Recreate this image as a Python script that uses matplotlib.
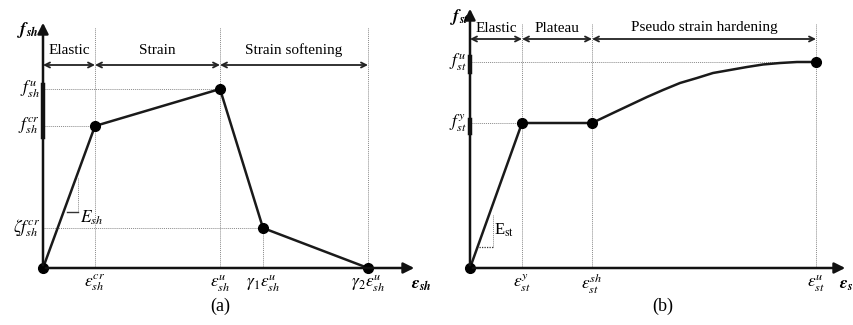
import numpy as np
import matplotlib.pyplot as plt

plt.rcParams['font.family'] = ['Liberation Serif', 'DejaVu Serif']
plt.rcParams['mathtext.fontset'] = 'custom'
plt.rcParams['mathtext.rm'] = 'STIXGeneral'
plt.rcParams['mathtext.it'] = 'STIXGeneral:italic'
plt.rcParams['mathtext.bf'] = 'STIXGeneral:italic:bold'

# (a) strain-hardening material, schematic units
sh_strain = [0, 52, 177, 220, 325]
sh_stress = [0, 142, 179, 40, 0]
sh_xlabels = [r'$\varepsilon_{sh}^{cr}$', r'$\varepsilon_{sh}^{u}$',
              r'$\gamma_1\varepsilon_{sh}^{u}$', r'$\gamma_2\varepsilon_{sh}^{u}$']
sh_ylabels = [r'$f_{sh}^{cr}$', r'$f_{sh}^{u}$', r'$\zeta f_{sh}^{cr}$']
sh_zones = ['Elastic', 'Strain', 'Strain softening']

# (b) steel, schematic units
st_strain = [0, 52, 122]
st_stress = [0, 145, 145]
st_curve_x = [122, 143, 160, 177, 193, 210, 227, 243, 260, 277, 293, 310, 327, 346]
st_curve_y = [145, 155, 163, 171, 178, 185, 190, 195, 198, 201, 203.5, 205, 206, 206]
st_xlabels = [r'$\varepsilon_{st}^{y}$', r'$\varepsilon_{st}^{sh}$', r'$\varepsilon_{st}^{u}$']
st_ylabels = [r'$f_{st}^{y}$', r'$f_{st}^{u}$']
st_zones = ['Elastic', 'Plateau', 'Pseudo strain hardening']

fig = plt.figure(figsize=(8.54, 3.25), dpi=100)
axa = fig.add_axes([0, 0, 430 / 854, 1])
axb = fig.add_axes([430 / 854, 0, 424 / 854, 1])
axa.set_xlim(-43, 387)
axb.set_xlim(-40, 384)
for ax in (axa, axb):
    ax.set_ylim(-57, 268)
    ax.axis('off')

DOT = dict(color='#8a8a8a', lw=0.7, ls=(0, (1, 1)))
FS = 11
MFS = 12.5


def axes_arrows(ax, xend, ytop):
    ax.annotate('', xy=(xend, 0), xytext=(0, 0),
                arrowprops=dict(arrowstyle='-|>', lw=1.8, color='#111111', mutation_scale=16))
    ax.annotate('', xy=(0, ytop), xytext=(0, 0),
                arrowprops=dict(arrowstyle='-|>', lw=1.8, color='#111111', mutation_scale=16))


def zone_arrows(ax, edges, names, y, ty):
    for x0, x1, name in zip(edges[:-1], edges[1:], names):
        ax.annotate('', xy=(x1, y), xytext=(x0, y),
                    arrowprops=dict(arrowstyle='<->', lw=1.3, color='#222222',
                                    mutation_scale=9, shrinkA=0, shrinkB=0))
        ax.text((x0 + x1) / 2, ty, name, ha='center', va='center', fontsize=FS)


# ---- panel (a)
axes_arrows(axa, 374, 248)
for x in [sh_strain[1], sh_strain[2], sh_strain[4]]:
    axa.plot([x, x], [0, 241], **DOT)
axa.plot([sh_strain[3], sh_strain[3]], [0, sh_stress[3]], **DOT)
axa.plot([0, sh_strain[2]], [sh_stress[2]] * 2, **DOT)
axa.plot([0, sh_strain[1]], [sh_stress[1]] * 2, **DOT)
axa.plot([0, sh_strain[3]], [sh_stress[3]] * 2, **DOT)
axa.plot([0, 0], [131, 183], color='#111111', lw=3.2)
axa.plot(sh_strain, sh_stress, color='#1a1a1a', lw=1.8, marker='o', ms=7, mfc='black', mec='black')
zone_arrows(axa, [0, sh_strain[1], sh_strain[2], sh_strain[4]], sh_zones, 203, 218)
for x, lab in zip(sh_strain[1:], sh_xlabels):
    axa.text(x, -4, lab, ha='center', va='top', fontsize=MFS)
for y, lab in zip([sh_stress[1], sh_stress[2], sh_stress[3]], sh_ylabels):
    axa.text(-3, y, lab, ha='right', va='center', fontsize=MFS)
axa.plot([35, 35], [56, 90], **DOT)
axa.plot([24, 35], [56, 56], color='#333333', lw=1.0)
axa.text(37, 50, r'$E_{sh}$', ha='left', va='center', fontsize=MFS)
axa.text(-4, 238, r'$\mathbf{f_{sh}}$', ha='right', va='center', fontsize=MFS)
axa.text(368, -17, r'$\mathbf{\varepsilon_{sh}}$', ha='left', va='center', fontsize=MFS)
axa.text(177, -38, '(a)', ha='center', va='center', fontsize=FS + 2)

# ---- panel (b)
axes_arrows(axb, 378, 262)
for x in [st_strain[1], st_strain[2], st_curve_x[-1]]:
    axb.plot([x, x], [0, 245], **DOT)
axb.plot([0, st_curve_x[-1]], [st_curve_y[-1]] * 2, **DOT)
axb.plot([0, st_strain[1]], [st_stress[1]] * 2, **DOT)
axb.plot([0, 0], [196, 211], color='#111111', lw=3.2)
axb.plot([0, 0], [135, 148], color='#111111', lw=3.2)
axb.plot(st_strain, st_stress, color='#1a1a1a', lw=1.8)
axb.plot(st_curve_x, st_curve_y, color='#1a1a1a', lw=1.8)
axb.plot(st_strain + [st_curve_x[-1]], st_stress + [st_curve_y[-1]], ls='none',
         marker='o', ms=7, mfc='black', mec='black')
zone_arrows(axb, [0, st_strain[1], st_strain[2], st_curve_x[-1]], st_zones, 229, 240)
for x, lab in zip([st_strain[1], st_strain[2], st_curve_x[-1]], st_xlabels):
    axb.text(x, -4, lab, ha='center', va='top', fontsize=MFS)
for y, lab in zip([st_stress[1], st_curve_y[-1]], st_ylabels):
    axb.text(-3, y, lab, ha='right', va='center', fontsize=MFS)
axb.plot([23, 23], [21, 53], **DOT)
axb.plot([9, 23], [21, 21], color='#333333', lw=0.9, ls=(0, (1, 1)))
axb.text(24, 38, r'E$_{\rm st}$', ha='left', va='center', fontsize=FS + 1)
axb.text(-1, 251, r'$\mathbf{f_{st}}$', ha='right', va='center', fontsize=MFS)
axb.text(369, -17, r'$\mathbf{\varepsilon_{s}}$', ha='left', va='center', fontsize=MFS)
axb.text(193, -38, '(b)', ha='center', va='center', fontsize=FS + 2)

fig.savefig('out.png', dpi=100)
